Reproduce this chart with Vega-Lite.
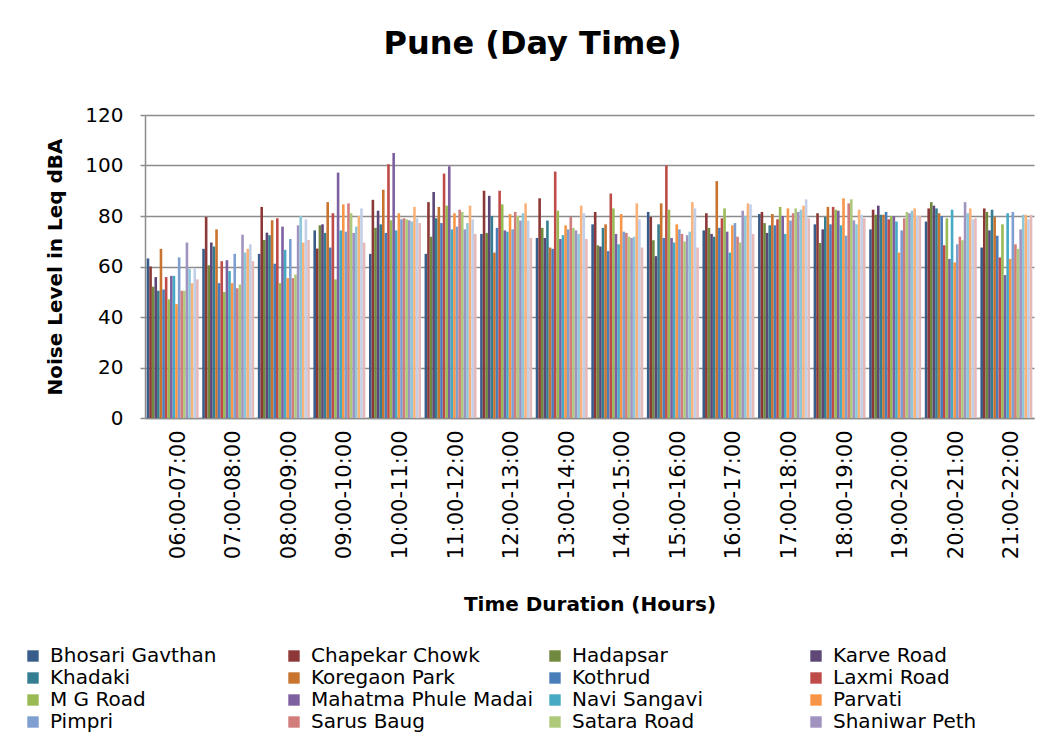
{
"$schema": "https://vega.github.io/schema/vega-lite/v6.json",
"width": 889, "height": 303,
"autosize": {"type": "none"},
"padding": {"left": 145, "top": 115, "right": 19, "bottom": 326},
"background": "white",
"title": {"text": "Pune (Day Time)", "font": "DejaVu Sans", "fontSize": 32, "fontWeight": "bold", "color": "black", "anchor": "middle", "dx": -57, "baseline": "alphabetic", "offset": 19},
"config": {"view": {"stroke": null}, "font": "DejaVu Sans"},
"datasets": {"d": [
{"t":"06:00-07:00","s":"Bhosari Gavthan","v":63.2},{"t":"06:00-07:00","s":"Chapekar Chowk","v":60},{"t":"06:00-07:00","s":"Hadapsar","v":52},{"t":"06:00-07:00","s":"Karve Road","v":55.8},{"t":"06:00-07:00","s":"Khadaki","v":50.4},{"t":"06:00-07:00","s":"Koregaon Park","v":67},{"t":"06:00-07:00","s":"Kothrud","v":50.9},{"t":"06:00-07:00","s":"Laxmi Road","v":55.8},{"t":"06:00-07:00","s":"M G Road","v":47},{"t":"06:00-07:00","s":"Mahatma Phule Madai","v":56.3},{"t":"06:00-07:00","s":"Navi Sangavi","v":56.3},{"t":"06:00-07:00","s":"Parvati","v":45.1},{"t":"06:00-07:00","s":"Pimpri","v":63.6},{"t":"06:00-07:00","s":"Sarus Baug","v":50.4},{"t":"06:00-07:00","s":"Satara Road","v":50.4},{"t":"06:00-07:00","s":"Shaniwar Peth","v":69.5},{"t":"06:00-07:00","s":"Shivaji Nagar","v":59.1},{"t":"06:00-07:00","s":"Swargate","v":53.4},{"t":"06:00-07:00","s":"Vishrantwadi","v":59.1},{"t":"06:00-07:00","s":"Yerawada","v":54.9},
{"t":"07:00-08:00","s":"Bhosari Gavthan","v":67},{"t":"07:00-08:00","s":"Chapekar Chowk","v":79.6},{"t":"07:00-08:00","s":"Hadapsar","v":60.5},{"t":"07:00-08:00","s":"Karve Road","v":69.5},{"t":"07:00-08:00","s":"Khadaki","v":67.9},{"t":"07:00-08:00","s":"Koregaon Park","v":74.7},{"t":"07:00-08:00","s":"Kothrud","v":53.4},{"t":"07:00-08:00","s":"Laxmi Road","v":62.1},{"t":"07:00-08:00","s":"M G Road","v":49.9},{"t":"07:00-08:00","s":"Mahatma Phule Madai","v":62.5},{"t":"07:00-08:00","s":"Navi Sangavi","v":58.2},{"t":"07:00-08:00","s":"Parvati","v":53.4},{"t":"07:00-08:00","s":"Pimpri","v":65},{"t":"07:00-08:00","s":"Sarus Baug","v":51.4},{"t":"07:00-08:00","s":"Satara Road","v":52.9},{"t":"07:00-08:00","s":"Shaniwar Peth","v":72.6},{"t":"07:00-08:00","s":"Shivaji Nagar","v":65.5},{"t":"07:00-08:00","s":"Swargate","v":67},{"t":"07:00-08:00","s":"Vishrantwadi","v":68.8},{"t":"07:00-08:00","s":"Yerawada","v":62.1},
{"t":"08:00-09:00","s":"Bhosari Gavthan","v":65},{"t":"08:00-09:00","s":"Chapekar Chowk","v":83.6},{"t":"08:00-09:00","s":"Hadapsar","v":70.5},{"t":"08:00-09:00","s":"Karve Road","v":73.4},{"t":"08:00-09:00","s":"Khadaki","v":72.4},{"t":"08:00-09:00","s":"Koregaon Park","v":78.3},{"t":"08:00-09:00","s":"Kothrud","v":61.1},{"t":"08:00-09:00","s":"Laxmi Road","v":79.1},{"t":"08:00-09:00","s":"M G Road","v":53.4},{"t":"08:00-09:00","s":"Mahatma Phule Madai","v":75.8},{"t":"08:00-09:00","s":"Navi Sangavi","v":66.6},{"t":"08:00-09:00","s":"Parvati","v":55.4},{"t":"08:00-09:00","s":"Pimpri","v":70.9},{"t":"08:00-09:00","s":"Sarus Baug","v":55.4},{"t":"08:00-09:00","s":"Satara Road","v":56.8},{"t":"08:00-09:00","s":"Shaniwar Peth","v":76.3},{"t":"08:00-09:00","s":"Shivaji Nagar","v":80},{"t":"08:00-09:00","s":"Swargate","v":69.5},{"t":"08:00-09:00","s":"Vishrantwadi","v":78.7},{"t":"08:00-09:00","s":"Yerawada","v":70.5},
{"t":"09:00-10:00","s":"Bhosari Gavthan","v":74.3},{"t":"09:00-10:00","s":"Chapekar Chowk","v":67.1},{"t":"09:00-10:00","s":"Hadapsar","v":76.3},{"t":"09:00-10:00","s":"Karve Road","v":76.7},{"t":"09:00-10:00","s":"Khadaki","v":73.3},{"t":"09:00-10:00","s":"Koregaon Park","v":85.5},{"t":"09:00-10:00","s":"Kothrud","v":67.5},{"t":"09:00-10:00","s":"Laxmi Road","v":81.1},{"t":"09:00-10:00","s":"M G Road","v":54.9},{"t":"09:00-10:00","s":"Mahatma Phule Madai","v":97.2},{"t":"09:00-10:00","s":"Navi Sangavi","v":74.3},{"t":"09:00-10:00","s":"Parvati","v":84.6},{"t":"09:00-10:00","s":"Pimpri","v":73.8},{"t":"09:00-10:00","s":"Sarus Baug","v":85},{"t":"09:00-10:00","s":"Satara Road","v":81.1},{"t":"09:00-10:00","s":"Shaniwar Peth","v":73.3},{"t":"09:00-10:00","s":"Shivaji Nagar","v":75.8},{"t":"09:00-10:00","s":"Swargate","v":80},{"t":"09:00-10:00","s":"Vishrantwadi","v":83},{"t":"09:00-10:00","s":"Yerawada","v":69.5},
{"t":"10:00-11:00","s":"Bhosari Gavthan","v":65},{"t":"10:00-11:00","s":"Chapekar Chowk","v":86.4},{"t":"10:00-11:00","s":"Hadapsar","v":75.3},{"t":"10:00-11:00","s":"Karve Road","v":82.1},{"t":"10:00-11:00","s":"Khadaki","v":76.7},{"t":"10:00-11:00","s":"Koregaon Park","v":90.4},{"t":"10:00-11:00","s":"Kothrud","v":73.3},{"t":"10:00-11:00","s":"Laxmi Road","v":100.5},{"t":"10:00-11:00","s":"M G Road","v":78.3},{"t":"10:00-11:00","s":"Mahatma Phule Madai","v":105},{"t":"10:00-11:00","s":"Navi Sangavi","v":74.3},{"t":"10:00-11:00","s":"Parvati","v":81.1},{"t":"10:00-11:00","s":"Pimpri","v":78.7},{"t":"10:00-11:00","s":"Sarus Baug","v":79.1},{"t":"10:00-11:00","s":"Satara Road","v":78.7},{"t":"10:00-11:00","s":"Shaniwar Peth","v":78.3},{"t":"10:00-11:00","s":"Shivaji Nagar","v":77.8},{"t":"10:00-11:00","s":"Swargate","v":83.6},{"t":"10:00-11:00","s":"Vishrantwadi","v":79.1},{"t":"10:00-11:00","s":"Yerawada","v":77.2},
{"t":"11:00-12:00","s":"Bhosari Gavthan","v":65},{"t":"11:00-12:00","s":"Chapekar Chowk","v":85.5},{"t":"11:00-12:00","s":"Hadapsar","v":71.8},{"t":"11:00-12:00","s":"Karve Road","v":89.5},{"t":"11:00-12:00","s":"Khadaki","v":79.1},{"t":"11:00-12:00","s":"Koregaon Park","v":83.6},{"t":"11:00-12:00","s":"Kothrud","v":77.2},{"t":"11:00-12:00","s":"Laxmi Road","v":96.8},{"t":"11:00-12:00","s":"M G Road","v":84.1},{"t":"11:00-12:00","s":"Mahatma Phule Madai","v":99.7},{"t":"11:00-12:00","s":"Navi Sangavi","v":74.7},{"t":"11:00-12:00","s":"Parvati","v":81.1},{"t":"11:00-12:00","s":"Pimpri","v":75.8},{"t":"11:00-12:00","s":"Sarus Baug","v":82.5},{"t":"11:00-12:00","s":"Satara Road","v":81.6},{"t":"11:00-12:00","s":"Shaniwar Peth","v":74.7},{"t":"11:00-12:00","s":"Shivaji Nagar","v":77.2},{"t":"11:00-12:00","s":"Swargate","v":84.1},{"t":"11:00-12:00","s":"Vishrantwadi","v":78.7},{"t":"11:00-12:00","s":"Yerawada","v":72.9},
{"t":"12:00-13:00","s":"Bhosari Gavthan","v":72.9},{"t":"12:00-13:00","s":"Chapekar Chowk","v":90},{"t":"12:00-13:00","s":"Hadapsar","v":73.3},{"t":"12:00-13:00","s":"Karve Road","v":88},{"t":"12:00-13:00","s":"Khadaki","v":80},{"t":"12:00-13:00","s":"Koregaon Park","v":65.5},{"t":"12:00-13:00","s":"Kothrud","v":75.3},{"t":"12:00-13:00","s":"Laxmi Road","v":90},{"t":"12:00-13:00","s":"M G Road","v":84.6},{"t":"12:00-13:00","s":"Mahatma Phule Madai","v":74.3},{"t":"12:00-13:00","s":"Navi Sangavi","v":73.8},{"t":"12:00-13:00","s":"Parvati","v":80.8},{"t":"12:00-13:00","s":"Pimpri","v":74.7},{"t":"12:00-13:00","s":"Sarus Baug","v":81.6},{"t":"12:00-13:00","s":"Satara Road","v":80},{"t":"12:00-13:00","s":"Shaniwar Peth","v":78.2},{"t":"12:00-13:00","s":"Shivaji Nagar","v":81.1},{"t":"12:00-13:00","s":"Swargate","v":85},{"t":"12:00-13:00","s":"Vishrantwadi","v":78.2},{"t":"12:00-13:00","s":"Yerawada","v":71.3},
{"t":"13:00-14:00","s":"Bhosari Gavthan","v":71.3},{"t":"13:00-14:00","s":"Chapekar Chowk","v":87},{"t":"13:00-14:00","s":"Hadapsar","v":75.3},{"t":"13:00-14:00","s":"Karve Road","v":71.3},{"t":"13:00-14:00","s":"Khadaki","v":78.2},{"t":"13:00-14:00","s":"Koregaon Park","v":67.5},{"t":"13:00-14:00","s":"Kothrud","v":67},{"t":"13:00-14:00","s":"Laxmi Road","v":97.6},{"t":"13:00-14:00","s":"M G Road","v":82.1},{"t":"13:00-14:00","s":"Mahatma Phule Madai","v":70.9},{"t":"13:00-14:00","s":"Navi Sangavi","v":72.4},{"t":"13:00-14:00","s":"Parvati","v":76.3},{"t":"13:00-14:00","s":"Pimpri","v":74.7},{"t":"13:00-14:00","s":"Sarus Baug","v":79.6},{"t":"13:00-14:00","s":"Satara Road","v":75.3},{"t":"13:00-14:00","s":"Shaniwar Peth","v":74.3},{"t":"13:00-14:00","s":"Shivaji Nagar","v":72.9},{"t":"13:00-14:00","s":"Swargate","v":84.1},{"t":"13:00-14:00","s":"Vishrantwadi","v":81.1},{"t":"13:00-14:00","s":"Yerawada","v":70.9},
{"t":"14:00-15:00","s":"Bhosari Gavthan","v":76.7},{"t":"14:00-15:00","s":"Chapekar Chowk","v":81.6},{"t":"14:00-15:00","s":"Hadapsar","v":68.4},{"t":"14:00-15:00","s":"Karve Road","v":67.9},{"t":"14:00-15:00","s":"Khadaki","v":75.3},{"t":"14:00-15:00","s":"Koregaon Park","v":76.7},{"t":"14:00-15:00","s":"Kothrud","v":66.1},{"t":"14:00-15:00","s":"Laxmi Road","v":88.9},{"t":"14:00-15:00","s":"M G Road","v":83},{"t":"14:00-15:00","s":"Mahatma Phule Madai","v":72.9},{"t":"14:00-15:00","s":"Navi Sangavi","v":68.8},{"t":"14:00-15:00","s":"Parvati","v":80.8},{"t":"14:00-15:00","s":"Pimpri","v":73.8},{"t":"14:00-15:00","s":"Sarus Baug","v":73.3},{"t":"14:00-15:00","s":"Satara Road","v":71.8},{"t":"14:00-15:00","s":"Shaniwar Peth","v":71.3},{"t":"14:00-15:00","s":"Shivaji Nagar","v":71.8},{"t":"14:00-15:00","s":"Swargate","v":85},{"t":"14:00-15:00","s":"Vishrantwadi","v":78.7},{"t":"14:00-15:00","s":"Yerawada","v":67.5},
{"t":"15:00-16:00","s":"Bhosari Gavthan","v":81.6},{"t":"15:00-16:00","s":"Chapekar Chowk","v":79.6},{"t":"15:00-16:00","s":"Hadapsar","v":70.4},{"t":"15:00-16:00","s":"Karve Road","v":64.1},{"t":"15:00-16:00","s":"Khadaki","v":76.7},{"t":"15:00-16:00","s":"Koregaon Park","v":85},{"t":"15:00-16:00","s":"Kothrud","v":71.3},{"t":"15:00-16:00","s":"Laxmi Road","v":100},{"t":"15:00-16:00","s":"M G Road","v":82.5},{"t":"15:00-16:00","s":"Mahatma Phule Madai","v":71.3},{"t":"15:00-16:00","s":"Navi Sangavi","v":69.5},{"t":"15:00-16:00","s":"Parvati","v":76.7},{"t":"15:00-16:00","s":"Pimpri","v":74.7},{"t":"15:00-16:00","s":"Sarus Baug","v":72.9},{"t":"15:00-16:00","s":"Satara Road","v":69.9},{"t":"15:00-16:00","s":"Shaniwar Peth","v":72.4},{"t":"15:00-16:00","s":"Shivaji Nagar","v":73.8},{"t":"15:00-16:00","s":"Swargate","v":85.5},{"t":"15:00-16:00","s":"Vishrantwadi","v":83},{"t":"15:00-16:00","s":"Yerawada","v":67.5},
{"t":"16:00-17:00","s":"Bhosari Gavthan","v":74.3},{"t":"16:00-17:00","s":"Chapekar Chowk","v":81.1},{"t":"16:00-17:00","s":"Hadapsar","v":75.3},{"t":"16:00-17:00","s":"Karve Road","v":72.9},{"t":"16:00-17:00","s":"Khadaki","v":71.8},{"t":"16:00-17:00","s":"Koregaon Park","v":93.8},{"t":"16:00-17:00","s":"Kothrud","v":75.3},{"t":"16:00-17:00","s":"Laxmi Road","v":79.1},{"t":"16:00-17:00","s":"M G Road","v":83},{"t":"16:00-17:00","s":"Mahatma Phule Madai","v":73.8},{"t":"16:00-17:00","s":"Navi Sangavi","v":65.5},{"t":"16:00-17:00","s":"Parvati","v":76.3},{"t":"16:00-17:00","s":"Pimpri","v":77.2},{"t":"16:00-17:00","s":"Sarus Baug","v":71.8},{"t":"16:00-17:00","s":"Satara Road","v":69.5},{"t":"16:00-17:00","s":"Shaniwar Peth","v":82.1},{"t":"16:00-17:00","s":"Shivaji Nagar","v":80},{"t":"16:00-17:00","s":"Swargate","v":85},{"t":"16:00-17:00","s":"Vishrantwadi","v":84.6},{"t":"16:00-17:00","s":"Yerawada","v":72.9},
{"t":"17:00-18:00","s":"Bhosari Gavthan","v":80.8},{"t":"17:00-18:00","s":"Chapekar Chowk","v":81.6},{"t":"17:00-18:00","s":"Hadapsar","v":77.2},{"t":"17:00-18:00","s":"Karve Road","v":73.3},{"t":"17:00-18:00","s":"Khadaki","v":76.3},{"t":"17:00-18:00","s":"Koregaon Park","v":80.8},{"t":"17:00-18:00","s":"Kothrud","v":76.3},{"t":"17:00-18:00","s":"Laxmi Road","v":78.7},{"t":"17:00-18:00","s":"M G Road","v":83.6},{"t":"17:00-18:00","s":"Mahatma Phule Madai","v":80},{"t":"17:00-18:00","s":"Navi Sangavi","v":72.9},{"t":"17:00-18:00","s":"Parvati","v":83},{"t":"17:00-18:00","s":"Pimpri","v":78.2},{"t":"17:00-18:00","s":"Sarus Baug","v":81.1},{"t":"17:00-18:00","s":"Satara Road","v":83},{"t":"17:00-18:00","s":"Shaniwar Peth","v":81.6},{"t":"17:00-18:00","s":"Shivaji Nagar","v":82.5},{"t":"17:00-18:00","s":"Swargate","v":84.1},{"t":"17:00-18:00","s":"Vishrantwadi","v":86.6},{"t":"17:00-18:00","s":"Yerawada","v":79.1},
{"t":"18:00-19:00","s":"Bhosari Gavthan","v":76.7},{"t":"18:00-19:00","s":"Chapekar Chowk","v":81.1},{"t":"18:00-19:00","s":"Hadapsar","v":69.3},{"t":"18:00-19:00","s":"Karve Road","v":74.7},{"t":"18:00-19:00","s":"Khadaki","v":79.6},{"t":"18:00-19:00","s":"Koregaon Park","v":83.6},{"t":"18:00-19:00","s":"Kothrud","v":76.7},{"t":"18:00-19:00","s":"Laxmi Road","v":83.6},{"t":"18:00-19:00","s":"M G Road","v":82.5},{"t":"18:00-19:00","s":"Mahatma Phule Madai","v":82.1},{"t":"18:00-19:00","s":"Navi Sangavi","v":76.3},{"t":"18:00-19:00","s":"Parvati","v":87},{"t":"18:00-19:00","s":"Pimpri","v":72.2},{"t":"18:00-19:00","s":"Sarus Baug","v":85},{"t":"18:00-19:00","s":"Satara Road","v":86.6},{"t":"18:00-19:00","s":"Shaniwar Peth","v":78.3},{"t":"18:00-19:00","s":"Shivaji Nagar","v":76.7},{"t":"18:00-19:00","s":"Swargate","v":82.5},{"t":"18:00-19:00","s":"Vishrantwadi","v":80.5},{"t":"18:00-19:00","s":"Yerawada","v":79.1},
{"t":"19:00-20:00","s":"Bhosari Gavthan","v":74.7},{"t":"19:00-20:00","s":"Chapekar Chowk","v":82.5},{"t":"19:00-20:00","s":"Hadapsar","v":80.5},{"t":"19:00-20:00","s":"Karve Road","v":84.1},{"t":"19:00-20:00","s":"Khadaki","v":80.5},{"t":"19:00-20:00","s":"Koregaon Park","v":80.5},{"t":"19:00-20:00","s":"Kothrud","v":81.6},{"t":"19:00-20:00","s":"Laxmi Road","v":78.7},{"t":"19:00-20:00","s":"M G Road","v":80},{"t":"19:00-20:00","s":"Mahatma Phule Madai","v":80},{"t":"19:00-20:00","s":"Navi Sangavi","v":77.8},{"t":"19:00-20:00","s":"Parvati","v":65.5},{"t":"19:00-20:00","s":"Pimpri","v":74.3},{"t":"19:00-20:00","s":"Sarus Baug","v":79.1},{"t":"19:00-20:00","s":"Satara Road","v":81.6},{"t":"19:00-20:00","s":"Shaniwar Peth","v":81.1},{"t":"19:00-20:00","s":"Shivaji Nagar","v":82.1},{"t":"19:00-20:00","s":"Swargate","v":83},{"t":"19:00-20:00","s":"Vishrantwadi","v":80},{"t":"19:00-20:00","s":"Yerawada","v":80},
{"t":"20:00-21:00","s":"Bhosari Gavthan","v":77.8},{"t":"20:00-21:00","s":"Chapekar Chowk","v":83},{"t":"20:00-21:00","s":"Hadapsar","v":85.5},{"t":"20:00-21:00","s":"Karve Road","v":84.1},{"t":"20:00-21:00","s":"Khadaki","v":83},{"t":"20:00-21:00","s":"Koregaon Park","v":81.1},{"t":"20:00-21:00","s":"Kothrud","v":80},{"t":"20:00-21:00","s":"Laxmi Road","v":68.4},{"t":"20:00-21:00","s":"M G Road","v":79.1},{"t":"20:00-21:00","s":"Mahatma Phule Madai","v":63},{"t":"20:00-21:00","s":"Navi Sangavi","v":82.5},{"t":"20:00-21:00","s":"Parvati","v":61.6},{"t":"20:00-21:00","s":"Pimpri","v":68.8},{"t":"20:00-21:00","s":"Sarus Baug","v":71.8},{"t":"20:00-21:00","s":"Satara Road","v":70.4},{"t":"20:00-21:00","s":"Shaniwar Peth","v":85.5},{"t":"20:00-21:00","s":"Shivaji Nagar","v":81.1},{"t":"20:00-21:00","s":"Swargate","v":83},{"t":"20:00-21:00","s":"Vishrantwadi","v":78.7},{"t":"20:00-21:00","s":"Yerawada","v":79.1},
{"t":"21:00-22:00","s":"Bhosari Gavthan","v":67.5},{"t":"21:00-22:00","s":"Chapekar Chowk","v":83},{"t":"21:00-22:00","s":"Hadapsar","v":81.6},{"t":"21:00-22:00","s":"Karve Road","v":74.3},{"t":"21:00-22:00","s":"Khadaki","v":82.5},{"t":"21:00-22:00","s":"Koregaon Park","v":79.6},{"t":"21:00-22:00","s":"Kothrud","v":72.2},{"t":"21:00-22:00","s":"Laxmi Road","v":63.6},{"t":"21:00-22:00","s":"M G Road","v":76.7},{"t":"21:00-22:00","s":"Mahatma Phule Madai","v":56.6},{"t":"21:00-22:00","s":"Navi Sangavi","v":81.1},{"t":"21:00-22:00","s":"Parvati","v":63},{"t":"21:00-22:00","s":"Pimpri","v":81.6},{"t":"21:00-22:00","s":"Sarus Baug","v":68.8},{"t":"21:00-22:00","s":"Satara Road","v":67},{"t":"21:00-22:00","s":"Shaniwar Peth","v":74.7},{"t":"21:00-22:00","s":"Shivaji Nagar","v":80.5},{"t":"21:00-22:00","s":"Swargate","v":80.5},{"t":"21:00-22:00","s":"Vishrantwadi","v":78.7},{"t":"21:00-22:00","s":"Yerawada","v":80.5}
]},
"data": {"name": "d"},
"mark": {"type": "bar"},
"encoding": {
  "x": {"field": "t", "type": "nominal", "sort": null,
    "scale": {"paddingInner": 0.065, "paddingOuter": 0.03},
    "axis": {"title": "Time Duration (Hours)", "labelAngle": -90, "labelFontSize": 21, "labelFont": "DejaVu Sans", "titleFont": "DejaVu Sans", "titleFontSize": 20, "titleFontWeight": "bold", "labelColor": "black", "titleColor": "black", "domainColor": "#8c8c8c", "domainWidth": 1.5, "ticks": false, "labelPadding": 12, "labelOffset": 6, "titlePadding": 36, "grid": false}},
  "xOffset": {"field": "s", "type": "nominal",
    "scale": {"domain": ["Bhosari Gavthan","Chapekar Chowk","Hadapsar","Karve Road","Khadaki","Koregaon Park","Kothrud","Laxmi Road","M G Road","Mahatma Phule Madai","Navi Sangavi","Parvati","Pimpri","Sarus Baug","Satara Road","Shaniwar Peth","Shivaji Nagar","Swargate","Vishrantwadi","Yerawada"], "paddingInner": 0, "paddingOuter": 0}},
  "y": {"field": "v", "type": "quantitative", "scale": {"domain": [0, 120], "nice": false},
    "axis": {"values": [0,20,40,60,80,100,120], "title": "Noise Level in Leq dBA", "labelFontSize": 20, "labelFont": "DejaVu Sans", "titleFont": "DejaVu Sans", "titleFontSize": 20, "titleFontWeight": "bold", "labelColor": "black", "titleColor": "black", "domainColor": "#8c8c8c", "domainWidth": 1.5, "tickColor": "#8c8c8c", "tickWidth": 1.5, "tickSize": 5, "labelPadding": 17, "titlePadding": 19, "grid": true, "gridColor": "#8c8c8c", "gridWidth": 1.5}},
  "color": {"field": "s", "type": "nominal",
    "scale": {"domain": ["Bhosari Gavthan","Chapekar Chowk","Hadapsar","Karve Road","Khadaki","Koregaon Park","Kothrud","Laxmi Road","M G Road","Mahatma Phule Madai","Navi Sangavi","Parvati","Pimpri","Sarus Baug","Satara Road","Shaniwar Peth","Shivaji Nagar","Swargate","Vishrantwadi","Yerawada"],
      "range": ["#385D8A","#8C3836","#71893F","#5C4776","#357D91","#C8742F","#4A7EBB","#BE4B48","#98B954","#7D60A0","#46AAC5","#F79646","#7F9FD0","#D07D7B","#AFC97A","#A193C0","#8DC7D9","#F9B27A","#C2CFE8","#E5B9B7"]},
    "legend": {"orient": "none", "direction": "horizontal", "legendX": -122, "legendY": 531, "columns": 4, "gridAlign": "all", "columnPadding": 11, "rowPadding": 2, "title": null,
      "values": ["Bhosari Gavthan","Chapekar Chowk","Hadapsar","Karve Road","Khadaki","Koregaon Park","Kothrud","Laxmi Road","M G Road","Mahatma Phule Madai","Navi Sangavi","Parvati","Pimpri","Sarus Baug","Satara Road","Shaniwar Peth"],
      "symbolType": "square", "symbolSize": 130, "symbolStrokeWidth": 0, "symbolOpacity": 1, "labelFontSize": 20, "labelFont": "DejaVu Sans", "labelColor": "black", "labelLimit": 400, "labelOffset": 7}}
}
}
